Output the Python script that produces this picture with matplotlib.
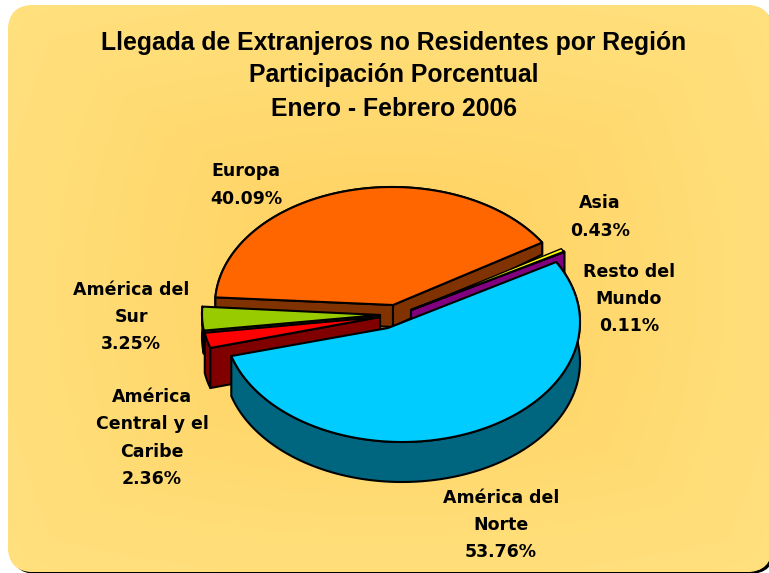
import numpy as np
import matplotlib
matplotlib.use("Agg")
import matplotlib.pyplot as plt
from matplotlib.patches import Polygon, FancyBboxPatch

# Data
regions = ["Asia", "Resto del\nMundo", "América del\nNorte", "América\nCentral y el\nCaribe", "América del\nSur", "Europa"]
shares = [0.43, 0.11, 53.76, 2.36, 3.25, 40.09]
title_lines = ["Llegada de Extranjeros no Residentes por Región", "Participación Porcentual", "Enero - Febrero 2006"]

top_colors = ["#FFFF00", "#FFFF00", "#00CCFF", "#FF0000", "#99CC00", "#FF6600"]
wall_colors = ["#808000", "#800080", "#006680", "#800000", "#4D6600", "#803300"]

# geometry per slice (pixels): arc centre, apex, radii, depth, depth slope, start angle, radial walls drawn
geom = {
    "Asia": dict(c=(411, 310), a=(411, 310), r=(177, 116), d=10, s=0, t=31.9, w=(0, 1), lw=1.0),
    "Resto": dict(c=(411, 310), a=(411, 310), r=(177, 116), d=25, s=0, t=30.4, w=(0, 1), lw=1.5),
    "Norte": dict(c=(402, 322), a=(388, 328), r=(178, 120), d=40, s=0, t=30.0, w=(), lw=1.5),
    "Central": dict(c=(380, 318), a=(380, 317), r=(177, 105), d=40, s=0, t=-163.4, w=(0,), lw=1.5),
    "Sur": dict(c=(380, 314), a=(380, 315), r=(178, 118), d=23, s=0, t=-171.9, w=(0,), lw=1.5),
    "Europa": dict(c=(392, 305), a=(393, 305), r=(177, 118), d=22, s=0.16, t=176.3, w=(0, 1), lw=1.5),
}
order = ["Europa", "Resto", "Asia", "Sur", "Central", "Norte"]
keys = ["Asia", "Resto", "Norte", "Central", "Sur", "Europa"]

W, H = 769, 573
fig = plt.figure(figsize=(W / 100, H / 100), dpi=100, facecolor="white")
ax = fig.add_axes([0, 0, 1, 1])
ax.set_xlim(0, W)
ax.set_ylim(H, 0)
ax.axis("off")

# Panel with shadow and gradient
shadow = FancyBboxPatch((11, 9), 764, 565, boxstyle="round,pad=0,rounding_size=26", fc="black", ec="none", zorder=0)
ax.add_patch(shadow)
panel = FancyBboxPatch((8, 5), 764, 567, boxstyle="round,pad=0,rounding_size=26", fc="#FFDF7A", ec="none", zorder=1)
ax.add_patch(panel)
yy, xx = np.mgrid[0:1:200j, 0:1:200j]
g = np.clip(np.maximum(np.abs(xx - 0.5) / 0.5, np.abs(yy - 0.5) / 0.5) * 0.55 + np.hypot(xx - 0.5, yy - 0.5) * 0.7, 0, 1) ** 0.7
c0 = np.array([255, 204, 85]) / 255
c1 = np.array([255, 224, 125]) / 255
img = c0 + (c1 - c0) * g[..., None]
im = ax.imshow(img, extent=(8, 772, 572, 5), aspect="auto", zorder=2, interpolation="bilinear")
im.set_clip_path(panel)
ax.set_xlim(0, W)
ax.set_ylim(H, 0)


def pt(g, deg):
    t = np.radians(deg)
    return g["c"][0] + g["r"][0] * np.cos(t), g["c"][1] - g["r"][1] * np.sin(t)


def drop(g, p):
    depth = g["d"] + g["s"] * (p[1] - g["c"][1])
    return p[0], p[1] + depth


z = 3
spans = dict(zip(keys, [v * 3.6 for v in shares]))
tops = dict(zip(keys, top_colors))
walls = dict(zip(keys, wall_colors))
for k in order:
    g = geom[k]
    t0 = g["t"]
    t1 = t0 - spans[k]
    ts = np.linspace(t0, t1, 120)
    arc = [pt(g, t) for t in ts]
    lowered = [drop(g, p) for p in arc]
    a = g["a"]
    kw = dict(ec="black", lw=g["lw"], joinstyle="round")
    if k != "Asia":
        ax.add_patch(Polygon(arc + lowered[::-1], fc=walls[k], zorder=z, **kw))
        for i in g["w"]:
            end = (arc[0], arc[-1])[i]
            quad = [a, end, drop(g, end), drop(g, a)]
            ax.add_patch(Polygon(quad, fc=walls[k], zorder=z, **kw))
    ax.add_patch(Polygon([a] + arc, fc=tops[k], zorder=z + 1, **kw))
    z += 2

tkw = dict(ha="center", va="center", family="Liberation Sans", fontweight="bold", fontsize=17.85, color="black", zorder=30)
for line, y in zip(title_lines, [43, 75, 109]):
    ax.text(394, y, line, **tkw)

lkw = dict(ha="center", va="center", family="DejaVu Sans", fontweight="bold", fontsize=12.5, color="black", zorder=30, linespacing=1.67)
labels_pos = [(600, 217), (629, 299), (501, 525), (152, 438), (131, 317), (246, 185)]
for name, v, (x, y) in zip(regions, shares, labels_pos):
    ax.text(x, y, f"{name}\n{v:.2f}%", **lkw)

fig.savefig("out.png", dpi=100, facecolor="white")
